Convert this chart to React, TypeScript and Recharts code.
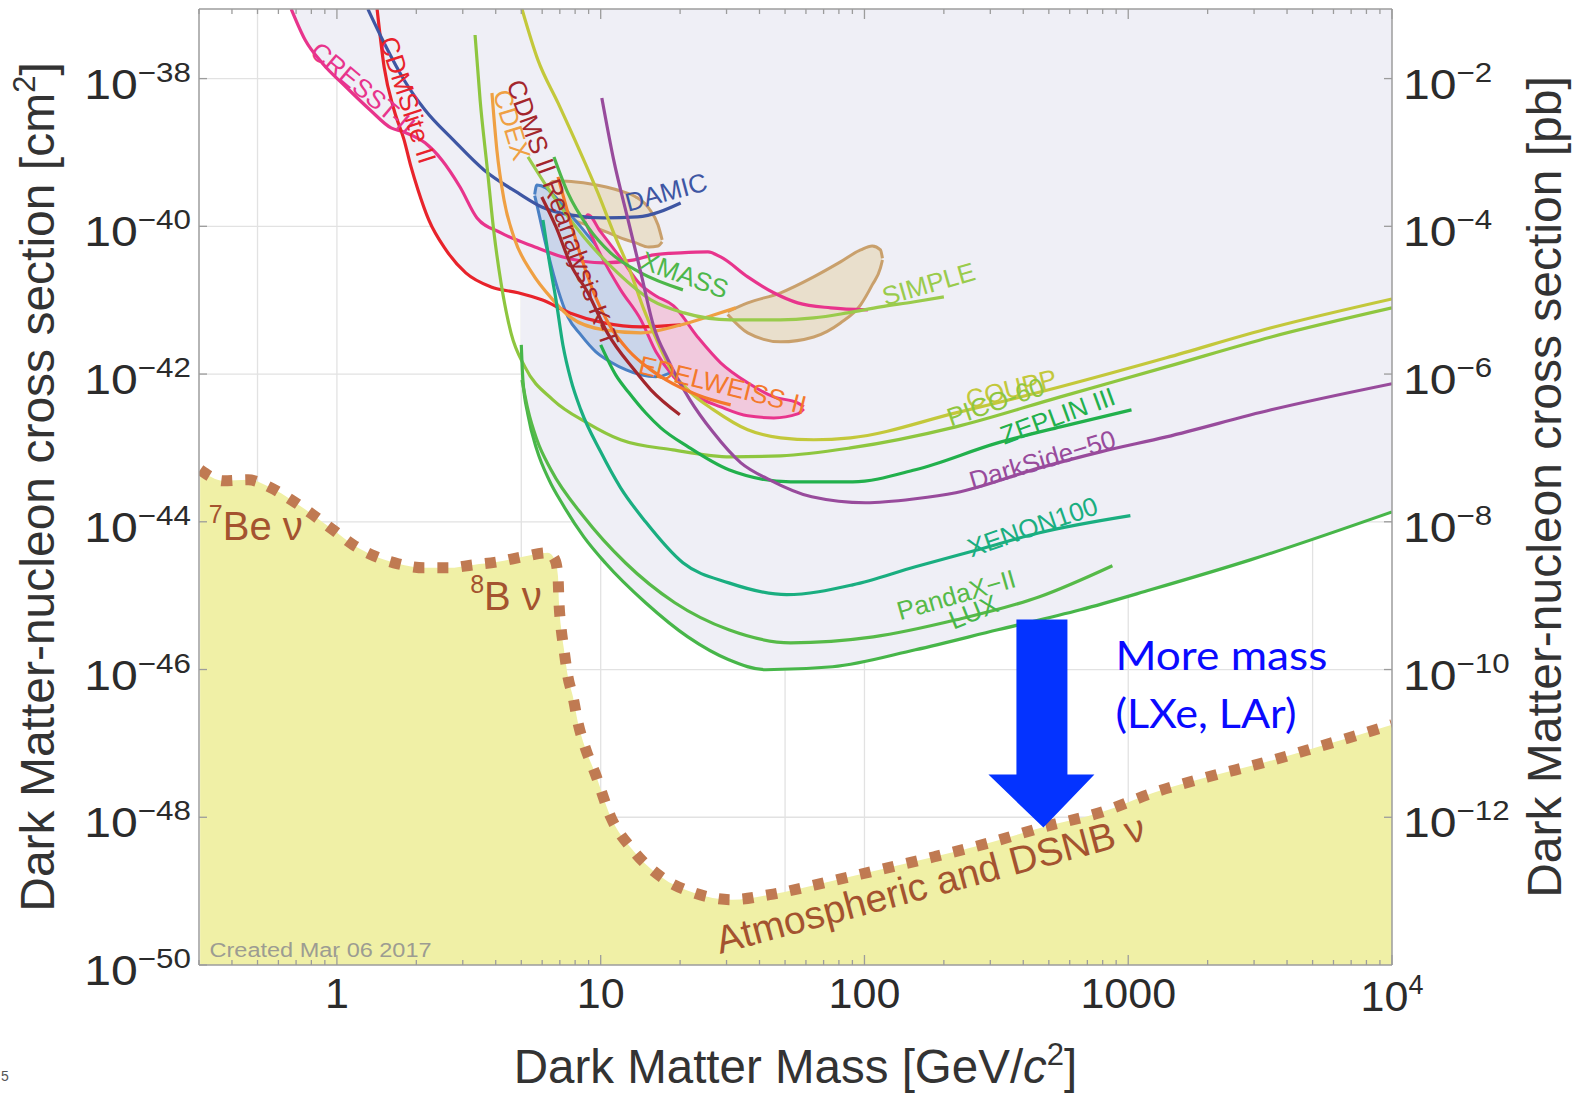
import React from 'react';
import {
  ComposedChart,
  Line,
  Area,
  XAxis,
  YAxis,
  CartesianGrid,
  ReferenceDot,
  ReferenceLine,
} from 'recharts';

// ---------- axes ----------
const X_MIN = 0.3;
const X_MAX = 10000;
const Y_MIN = 1e-50;
const Y_MAX = 8.75e-38;
const PB_PER_CM2 = 1e36;

const xTicks = [
  0.3, 0.4, 0.5, 0.6, 0.7, 0.8, 0.9,
  1, 2, 3, 4, 5, 6, 7, 8, 9,
  10, 20, 30, 40, 50, 60, 70, 80, 90,
  100, 200, 300, 400, 500, 600, 700, 800, 900,
  1000, 2000, 3000, 4000, 5000, 6000, 7000, 8000, 9000,
  10000,
];
const yTicksCm = [1e-50, 1e-48, 1e-46, 1e-44, 1e-42, 1e-40, 1e-38];
const yTicksPb = [1e-12, 1e-10, 1e-8, 1e-6, 1e-4, 1e-2];
const gridMasses = [0.5, 1, 5, 10, 50, 100, 500, 1000, 5000];
const gridSigmas = [1e-48, 1e-46, 1e-44, 1e-42, 1e-40, 1e-38];

// ---------- limit curves (mass GeV, cross section cm^2) ----------
const cresstII = [
  { m: 0.671, s: 8.75e-38 }, { m: 0.758, s: 3.33e-38 }, { m: 0.879, s: 1.63e-38 },
  { m: 1.083, s: 7.69e-39 }, { m: 1.336, s: 3.76e-39 }, { m: 1.604, s: 2.15e-39 },
  { m: 1.797, s: 1.89e-39 }, { m: 2.158, s: 1.35e-39 }, { m: 2.499, s: 7.93e-40 },
  { m: 2.929, s: 3.41e-40 }, { m: 3.397, s: 1.3e-40 }, { m: 4.19, s: 8.15e-41 },
  { m: 5.63, s: 5.26e-41 }, { m: 7.19, s: 3.85e-41 }, { m: 10.3, s: 3.2e-41 },
  { m: 13.4, s: 3.51e-41 }, { m: 15.9, s: 4.1e-41 }, { m: 20.1, s: 4.37e-41 },
  { m: 25.5, s: 4.5e-41 }, { m: 28.5, s: 3.85e-41 }, { m: 36.1, s: 2.07e-41 },
  { m: 45.3, s: 1.26e-41 }, { m: 55.8, s: 9.2e-42 }, { m: 74.5, s: 7.87e-42 },
  { m: 103, s: 7.4e-42 },
];
const cdmsLiteII = [
  { m: 1.42, s: 8.75e-38 }, { m: 1.51, s: 1.44e-38 }, { m: 1.647, s: 3.76e-39 },
  { m: 1.797, s: 1.48e-39 }, { m: 1.91, s: 6.37e-40 }, { m: 2.03, s: 3.11e-40 },
  { m: 2.23, s: 1.22e-40 }, { m: 2.59, s: 4.8e-41 }, { m: 3.08, s: 2.34e-41 },
  { m: 3.84, s: 1.51e-41 }, { m: 4.86, s: 1.26e-41 }, { m: 5.98, s: 1.01e-41 },
  { m: 7.64, s: 6.73e-42 }, { m: 10.3, s: 4.92e-42 }, { m: 14.2, s: 4.35e-42 },
  { m: 20.1, s: 4.62e-42 },
];
const damic = [
  { m: 1.31, s: 8.75e-38 }, { m: 1.51, s: 3.03e-38 }, { m: 1.797, s: 9.57e-39 },
  { m: 2.158, s: 3.76e-39 }, { m: 2.76, s: 1.48e-39 }, { m: 3.61, s: 5.79e-40 },
  { m: 4.86, s: 2.83e-40 }, { m: 5.98, s: 1.83e-40 }, { m: 7.64, s: 1.43e-40 },
  { m: 10.3, s: 1.3e-40 }, { m: 13.8, s: 1.34e-40 }, { m: 20.1, s: 2.07e-40 },
];
const cdex = [
  { m: 3.87, s: 6.38e-39 }, { m: 4.04, s: 1.08e-39 }, { m: 4.3, s: 2.28e-40 },
  { m: 4.73, s: 6.55e-41 }, { m: 5.49, s: 2.34e-41 }, { m: 6.59, s: 1.01e-41 },
  { m: 7.64, s: 5.94e-42 }, { m: 10.3, s: 3.96e-42 }, { m: 14.2, s: 3.61e-42 },
  { m: 20.1, s: 4.62e-42 }, { m: 26.8, s: 6.32e-42 }, { m: 32.5, s: 7.87e-42 },
];
const cdmsIIReanalysis = [
  { m: 5.98, s: 2.5e-40 }, { m: 6.77, s: 9.82e-41 }, { m: 7.71, s: 3.01e-41 },
  { m: 8.94, s: 1.26e-41 }, { m: 10.6, s: 3.61e-42 }, { m: 13.4, s: 1.14e-42 },
  { m: 15.5, s: 6.11e-43 }, { m: 19.95, s: 2.81e-43 },
];
const edelweissII = [
  { m: 6.89, s: 4.67e-40 }, { m: 8.2, s: 5.26e-41 }, { m: 9.42, s: 1.26e-41 },
  { m: 10.9, s: 4.35e-42 }, { m: 12.7, s: 2.12e-42 }, { m: 15.5, s: 1.14e-42 },
  { m: 17.7, s: 8.34e-43 }, { m: 23.3, s: 5.22e-43 }, { m: 31.1, s: 3.83e-43 },
];
const coupp = [
  { m: 5.03, s: 8.75e-38 }, { m: 5.78, s: 1.79e-38 }, { m: 6.89, s: 4.68e-39 },
  { m: 8.2, s: 1.19e-39 }, { m: 9.76, s: 2.83e-40 }, { m: 11.2, s: 8.15e-41 },
  { m: 13.0, s: 2.34e-41 }, { m: 14.6, s: 7.4e-42 }, { m: 16.5, s: 2.64e-42 },
  { m: 18.5, s: 1.14e-42 }, { m: 22.0, s: 5.57e-43 }, { m: 26.8, s: 3.28e-43 },
  { m: 36.1, s: 1.76e-43 }, { m: 48.1, s: 1.37e-43 }, { m: 64.2, s: 1.29e-43 },
  { m: 88.5, s: 1.37e-43 }, { m: 222, s: 2.98e-43 }, { m: 553, s: 6.73e-43 },
  { m: 1395, s: 1.66e-42 }, { m: 3483, s: 4.23e-42 }, { m: 10000, s: 1.04e-41 },
];
const pico60 = [
  { m: 3.34, s: 3.89e-38 }, { m: 3.49, s: 5.13e-39 }, { m: 3.71, s: 6.37e-40 },
  { m: 3.94, s: 8.15e-41 }, { m: 4.19, s: 1.71e-41 }, { m: 4.57, s: 3.61e-42 },
  { m: 5.16, s: 1.25e-42 }, { m: 6.59, s: 4.48e-43 }, { m: 8.87, s: 2.19e-43 },
  { m: 11.9, s: 1.29e-43 }, { m: 18.8, s: 9.42e-44 }, { m: 31.1, s: 7.58e-44 },
  { m: 48.1, s: 7.82e-44 }, { m: 88.5, s: 1.0e-43 }, { m: 222, s: 1.93e-43 },
  { m: 553, s: 4.91e-43 }, { m: 1395, s: 1.25e-42 }, { m: 3483, s: 3.18e-42 },
  { m: 10000, s: 7.87e-42 },
];
const simple = [
  { m: 5.3, s: 8.69e-40 }, { m: 6.48, s: 2.83e-40 }, { m: 8.63, s: 7.19e-41 },
  { m: 11.6, s: 2.34e-41 }, { m: 15.5, s: 1.01e-41 }, { m: 20.7, s: 6.73e-42 },
  { m: 31.1, s: 5.41e-42 }, { m: 48.1, s: 5.41e-42 }, { m: 64.2, s: 5.75e-42 },
  { m: 86.2, s: 6.73e-42 }, { m: 115, s: 8.11e-42 }, { m: 153, s: 9.46e-42 },
  { m: 200, s: 1.11e-41 },
];
const xmass = [
  { m: 6.65, s: 8.69e-40 }, { m: 7.51, s: 2.83e-40 }, { m: 8.94, s: 9.82e-41 },
  { m: 10.9, s: 4.37e-41 }, { m: 14.2, s: 2.34e-41 }, { m: 20.5, s: 1.38e-41 },
];
const zeplinIII = [
  { m: 10.0, s: 2.48e-42 }, { m: 11.4, s: 9.75e-43 }, { m: 12.8, s: 5.57e-43 },
  { m: 14.8, s: 2.99e-43 }, { m: 16.9, s: 1.87e-43 }, { m: 21.4, s: 1.04e-43 },
  { m: 30.6, s: 5.06e-44 }, { m: 52.5, s: 3.48e-44 }, { m: 90.2, s: 3.48e-44 },
  { m: 156, s: 5.06e-44 }, { m: 320, s: 1.17e-43 }, { m: 553, s: 1.93e-43 },
  { m: 1029, s: 3.28e-43 },
];
const darkSide50 = [
  { m: 10.1, s: 5.46e-39 }, { m: 11.2, s: 7.93e-40 }, { m: 12.7, s: 1.22e-40 },
  { m: 14.2, s: 2.34e-41 }, { m: 15.9, s: 4.35e-42 }, { m: 18.0, s: 1.56e-42 },
  { m: 21.8, s: 4.48e-43 }, { m: 26.6, s: 1.65e-43 }, { m: 34.0, s: 6.28e-44 },
  { m: 43.7, s: 3.7e-44 }, { m: 63.1, s: 2.18e-44 }, { m: 101, s: 1.81e-44 },
  { m: 156, s: 2.05e-44 }, { m: 222, s: 2.47e-44 }, { m: 461, s: 5.37e-44 },
  { m: 785, s: 8.85e-44 }, { m: 1395, s: 1.41e-43 }, { m: 3483, s: 3.28e-43 },
  { m: 10000, s: 7.4e-43 },
];
const xenon100 = [
  { m: 6.04, s: 1.22e-40 }, { m: 6.37, s: 3.52e-41 }, { m: 6.77, s: 1.01e-41 },
  { m: 7.19, s: 2.48e-42 }, { m: 7.71, s: 8.34e-43 }, { m: 8.41, s: 3.27e-43 },
  { m: 10.0, s: 8.85e-44 }, { m: 11.9, s: 2.88e-44 }, { m: 14.8, s: 1.0e-44 },
  { m: 20.5, s: 2.79e-45 }, { m: 30.6, s: 1.49e-45 }, { m: 50.7, s: 1.03e-45 },
  { m: 90.2, s: 1.4e-45 }, { m: 156, s: 2.46e-45 }, { m: 269, s: 4.18e-45 },
  { m: 461, s: 7.1e-45 }, { m: 1019, s: 1.21e-44 },
];
const pandaXII = [
  { m: 5.03, s: 8.34e-43 }, { m: 5.3, s: 3.27e-43 }, { m: 5.73, s: 1.29e-43 },
  { m: 6.48, s: 5.06e-44 }, { m: 8.63, s: 1.17e-44 }, { m: 12.4, s: 2.79e-45 },
  { m: 19.1, s: 8.02e-46 }, { m: 30.6, s: 3.45e-46 }, { m: 52.5, s: 2.3e-46 },
  { m: 108, s: 2.77e-46 }, { m: 223, s: 4.71e-46 }, { m: 461, s: 9.66e-46 },
  { m: 871, s: 2.54e-45 },
];
const lux = [
  { m: 5.0, s: 2.48e-42 }, { m: 5.07, s: 8.34e-43 }, { m: 5.3, s: 2.81e-43 },
  { m: 5.73, s: 9.42e-44 }, { m: 6.37, s: 3.7e-44 }, { m: 7.19, s: 1.7e-44 },
  { m: 8.63, s: 6.26e-45 }, { m: 10.4, s: 2.79e-45 }, { m: 14.8, s: 8.02e-46 },
  { m: 21.4, s: 2.77e-46 }, { m: 30.6, s: 1.36e-46 }, { m: 42.3, s: 9.93e-47 },
  { m: 75.7, s: 1.09e-46 }, { m: 156, s: 1.85e-46 }, { m: 320, s: 3.45e-46 },
  { m: 659, s: 6.43e-46 }, { m: 1215, s: 1.2e-45 }, { m: 2904, s: 3.05e-45 },
  { m: 10000, s: 1.36e-44 },
];

// envelope of the excluded parameter space (lower boundary)
const excludedRegion = [
  { m: 0.671, s: 8.75e-38 }, { m: 0.758, s: 3.33e-38 }, { m: 0.879, s: 1.63e-38 },
  { m: 1.083, s: 7.69e-39 }, { m: 1.336, s: 3.76e-39 }, { m: 1.604, s: 2.15e-39 },
  { m: 1.72, s: 1.89e-39 }, { m: 1.797, s: 1.48e-39 }, { m: 1.91, s: 6.37e-40 },
  { m: 2.03, s: 3.11e-40 }, { m: 2.23, s: 1.22e-40 }, { m: 2.59, s: 4.8e-41 },
  { m: 3.08, s: 2.34e-41 }, { m: 3.84, s: 1.51e-41 }, { m: 4.86, s: 1.26e-41 },
  { m: 4.98, s: 1.24e-41 }, { m: 5.0, s: 2.48e-42 }, { m: 5.07, s: 8.34e-43 },
  { m: 5.3, s: 2.81e-43 }, { m: 5.73, s: 9.42e-44 }, { m: 6.37, s: 3.7e-44 },
  { m: 7.19, s: 1.7e-44 }, { m: 8.63, s: 6.26e-45 }, { m: 10.4, s: 2.79e-45 },
  { m: 14.8, s: 8.02e-46 }, { m: 21.4, s: 2.77e-46 }, { m: 30.6, s: 1.36e-46 },
  { m: 42.3, s: 9.93e-47 }, { m: 75.7, s: 1.09e-46 }, { m: 156, s: 1.85e-46 },
  { m: 320, s: 3.45e-46 }, { m: 659, s: 6.43e-46 }, { m: 1215, s: 1.2e-45 },
  { m: 2904, s: 3.05e-45 }, { m: 10000, s: 1.36e-44 },
];

// neutrino floor
const neutrinoFloor = [
  { m: 0.303, s: 5.06e-44 }, { m: 0.371, s: 3.59e-44 }, { m: 0.461, s: 3.7e-44 },
  { m: 0.563, s: 2.88e-44 }, { m: 0.671, s: 1.98e-44 }, { m: 0.812, s: 1.24e-44 },
  { m: 0.967, s: 7.78e-45 }, { m: 1.152, s: 4.88e-45 }, { m: 1.383, s: 3.46e-45 },
  { m: 1.706, s: 2.7e-45 }, { m: 2.14, s: 2.38e-45 }, { m: 2.64, s: 2.38e-45 },
  { m: 3.28, s: 2.61e-45 }, { m: 4.08, s: 2.87e-45 }, { m: 5.07, s: 3.36e-45 },
  { m: 6.31, s: 3.8e-45 }, { m: 6.71, s: 3.05e-45 }, { m: 6.89, s: 1.8e-45 },
  { m: 6.95, s: 8.02e-46 }, { m: 7.07, s: 3.79e-46 }, { m: 7.26, s: 1.85e-46 },
  { m: 7.51, s: 7.98e-47 }, { m: 7.85, s: 4.28e-47 }, { m: 8.2, s: 1.91e-47 },
  { m: 8.79, s: 8.21e-48 }, { m: 9.51, s: 4.01e-48 }, { m: 10.9, s: 1.02e-48 },
  { m: 13.2, s: 3.64e-49 }, { m: 16.9, s: 1.57e-49 }, { m: 22.5, s: 9.52e-50 },
  { m: 31.4, s: 7.66e-50 }, { m: 43.7, s: 8.95e-50 }, { m: 70.6, s: 1.3e-49 },
  { m: 114, s: 1.95e-49 }, { m: 184, s: 2.92e-49 }, { m: 298, s: 4.52e-49 },
  { m: 482, s: 7.44e-49 }, { m: 778, s: 1.15e-48 }, { m: 1247, s: 2.15e-48 },
  { m: 2014, s: 3.53e-48 }, { m: 3251, s: 5.47e-48 }, { m: 5260, s: 8.99e-48 },
  { m: 10000, s: 1.79e-47 },
];

// signal regions [lower, upper]
const cdmsSiRegion = [
  { m: 5.62, r: [2.6e-40, 2.7e-40] }, { m: 5.73, r: [1.95e-40, 3.63e-40] },
  { m: 6.2, r: [5.6e-41, 3.31e-40] }, { m: 6.89, r: [1.38e-41, 2.28e-40] },
  { m: 7.51, r: [5.94e-42, 1.57e-40] }, { m: 8.41, r: [3.39e-42, 9.82e-41] },
  { m: 9.59, r: [2.0e-42, 5.6e-41] }, { m: 10.9, r: [1.46e-42, 3.51e-41] },
  { m: 12.5, r: [1.14e-42, 2.2e-41] }, { m: 14.2, r: [9.75e-43, 1.26e-41] },
  { m: 16.2, r: [9.16e-43, 7.4e-42] }, { m: 18.0, r: [1.01e-42, 4.36e-42] },
  { m: 19.6, r: [1.33e-42, 2.64e-42] }, { m: 20.7, r: [1.66e-42, 1.82e-42] },
];
const damaRegion = [
  { m: 6.25, r: [2.9e-40, 3.3e-40] }, { m: 6.6, r: [1.95e-40, 4.05e-40] },
  { m: 7.07, r: [1.57e-40, 4.11e-40] }, { m: 8.05, r: [1.18e-40, 3.99e-40] },
  { m: 9.18, r: [1.01e-40, 3.75e-40] }, { m: 10.5, r: [8.4e-41, 3.41e-40] },
  { m: 11.9, r: [6.97e-41, 3.01e-40] }, { m: 13.6, r: [5.96e-41, 2.5e-40] },
  { m: 15.2, r: [5.26e-41, 1.77e-40] }, { m: 16.5, r: [5.43e-41, 1.04e-40] },
  { m: 17.1, r: [6.15e-41, 6.55e-41] },
];
const cogentRegion = [
  { m: 30.3, r: [6.4e-42, 7.0e-42] }, { m: 36.1, r: [3.61e-42, 9.2e-42] },
  { m: 48.1, r: [2.73e-42, 1.26e-41] }, { m: 64.2, r: [3.18e-42, 2.07e-41] },
  { m: 81.1, r: [4.92e-42, 3.3e-41] }, { m: 96.7, r: [8.65e-42, 4.8e-41] },
  { m: 107, r: [1.61e-41, 5.43e-41] }, { m: 115, r: [2.73e-41, 4.8e-41] },
  { m: 117, r: [3.5e-41, 3.7e-41] },
];
const cresstRegion = [
  { m: 8.71, r: [1.15e-40, 1.25e-40] }, { m: 8.94, r: [9.51e-41, 1.43e-40] },
  { m: 10.0, r: [4.1e-41, 8.4e-41] }, { m: 11.9, r: [1.38e-41, 3.74e-41] },
  { m: 14.2, r: [5.41e-42, 1.61e-41] }, { m: 16.2, r: [2.0e-42, 1.14e-41] },
  { m: 18.9, r: [9.16e-43, 8.38e-42] }, { m: 23.3, r: [4.91e-43, 3.18e-42] },
  { m: 28.5, r: [3.6e-43, 1.42e-42] }, { m: 36.1, r: [2.72e-43, 7.61e-43] },
  { m: 45.3, r: [2.55e-43, 4.91e-43] }, { m: 55.8, r: [2.89e-43, 4.07e-43] },
  { m: 58.9, r: [3.38e-43, 3.6e-43] },
];

// curve name anchors (mass, cross section)
const curveLabels = [
  { text: 'CRESST-II', m: 1.255, s: 7.43e-39, angle: 40, color: '#e8348c' },
  { text: 'CDMSlite II', m: 1.86, s: 5.12e-39, angle: 72, color: '#e8232b' },
  { text: 'CDEX', m: 4.61, s: 2.35e-39, angle: 73, color: '#efa043' },
  { text: 'CDMS II Reanalysis K-T', m: 7.19, s: 1.51e-40, angle: 70, color: '#a3262c' },
  { text: 'DAMIC', m: 17.7, s: 2.9e-40, angle: -15, color: '#3e56a3' },
  { text: 'XMASS', m: 20.8, s: 2.2e-41, angle: 20, color: '#4db74a' },
  { text: 'SIMPLE', m: 175, s: 1.66e-41, angle: -16, color: '#9acb4c' },
  { text: 'EDELWEISS II', m: 29.0, s: 7.13e-43, angle: 14, color: '#f4792b' },
  { text: 'COUPP', m: 360, s: 6.3e-43, angle: -14, color: '#c3c83b' },
  { text: 'PICO-60', m: 314, s: 4.2e-43, angle: -19, color: '#8ec63f' },
  { text: 'ZEPLIN III', m: 540, s: 2.72e-43, angle: -20, color: '#22b04c' },
  { text: 'DarkSide\u221250', m: 473, s: 6.9e-44, angle: -16.5, color: '#984b9c' },
  { text: 'XENON100', m: 434, s: 8.55e-45, angle: -19, color: '#1aae80' },
  { text: 'PandaX\u2212II', m: 223, s: 1.03e-45, angle: -16, color: '#56ba48' },
  { text: 'LUX', m: 259, s: 6.04e-46, angle: -22, color: '#47b649' },
];

// annotation anchors
const be7Anchor = { m: 0.327, s: 5.7e-45 };
const b8Anchor = { m: 3.2, s: 6.38e-46 };
const atmAnchor = { m: 183, s: 8.41e-50 };
const createdAnchor = { m: 0.329, s: 1.3e-50 };
const arrowTip = { m: 477, s: 7.24e-49 };
const moreMassAnchor = { m: 894, s: 9.72e-47 };

// ---------- styling ----------
const W = 1581;
const H = 1095;
const PLOT_TOP = 9;
const PLOT_LEFT = 199;
const PLOT_RIGHT = 1392;
const PLOT_BOTTOM = 965;
const FONT = '"Liberation Sans", Arial, Helvetica, sans-serif';
const AXIS_COLOR = '#9c9c9c';
const TICK_TEXT = '#2b2b2b';
const NU_COLOR = '#a4532f';
const STRETCH = 1.12;

const minusStr = (n: number) => (n < 0 ? '\u2212' + Math.abs(n) : String(n));
const expOf = (v: number) => Math.round(Math.log10(v));
const isPow10 = (v: number) => Math.abs(v - Math.pow(10, expOf(v))) < 1e-6 * v;
// approximate natural width of "10^e" label (Helvetica metrics) for horizontal stretch
const powLabelWidth = (e: number) =>
  STRETCH * (43 * 1.112 + 28 * ((e < 0 ? 0.584 : 0) + 0.556 * String(Math.abs(e)).length));

function XTick(props: any) {
  const { x, payload } = props;
  const v = payload.value;
  const major = isPow10(v);
  const len = major ? 10 : 5;
  let label: any = null;
  if (major) {
    const e = expOf(v);
    label =
      e >= 4 ? (
        <text x={x} y={PLOT_BOTTOM + 46} textAnchor="middle" fontFamily={FONT} fontSize={43} fill={TICK_TEXT}>
          <tspan>10</tspan>
          <tspan dy={-17} fontSize={27}>{String(e)}</tspan>
        </text>
      ) : (
        <text x={x} y={PLOT_BOTTOM + 43} textAnchor="middle" fontFamily={FONT} fontSize={43} fill={TICK_TEXT}>
          {String(v)}
        </text>
      );
  }
  return (
    <g>
      <line x1={x} x2={x} y1={PLOT_BOTTOM} y2={PLOT_BOTTOM - len} stroke={AXIS_COLOR} strokeWidth={1.3} />
      <line x1={x} x2={x} y1={PLOT_TOP} y2={PLOT_TOP + len} stroke={AXIS_COLOR} strokeWidth={1.3} />
      {label}
    </g>
  );
}

function LeftTick(props: any) {
  const { y, payload } = props;
  const e = expOf(payload.value);
  return (
    <g>
      <line x1={PLOT_LEFT} x2={PLOT_LEFT + 8} y1={y} y2={y} stroke={AXIS_COLOR} strokeWidth={1.3} />
      <text
        x={PLOT_LEFT - 8}
        y={y + 20}
        textAnchor="end"
        fontFamily={FONT}
        fontSize={43}
        fill={TICK_TEXT}
        textLength={powLabelWidth(e)}
        lengthAdjust="spacingAndGlyphs"
      >
        <tspan>10</tspan>
        <tspan dy={-17} fontSize={28}>{minusStr(e)}</tspan>
      </text>
    </g>
  );
}

function RightTick(props: any) {
  const { y, payload } = props;
  const e = expOf(payload.value);
  return (
    <g>
      <line x1={PLOT_RIGHT} x2={PLOT_RIGHT - 8} y1={y} y2={y} stroke={AXIS_COLOR} strokeWidth={1.3} />
      <text
        x={PLOT_RIGHT + 11}
        y={y + 20}
        textAnchor="start"
        fontFamily={FONT}
        fontSize={43}
        fill={TICK_TEXT}
        textLength={powLabelWidth(e)}
        lengthAdjust="spacingAndGlyphs"
      >
        <tspan>10</tspan>
        <tspan dy={-17} fontSize={28}>{minusStr(e)}</tspan>
      </text>
    </g>
  );
}

const renderLeftTitle = (props: any) => {
  const vb = props.viewBox || { x: 0, y: PLOT_TOP, width: PLOT_LEFT, height: PLOT_BOTTOM - PLOT_TOP };
  const cx = vb.x + 54;
  const cy = vb.y + vb.height / 2;
  return (
    <text x={cx} y={cy} transform={`rotate(-90 ${cx} ${cy})`} textAnchor="middle" fontFamily={FONT} fontSize={48} fill="#333">
      <tspan>Dark Matter-nucleon cross section [cm</tspan>
      <tspan dy={-19} fontSize={31}>2</tspan>
      <tspan dy={19}>]</tspan>
    </text>
  );
};

const renderRightTitle = (props: any) => {
  const vb = props.viewBox || { x: PLOT_RIGHT, y: PLOT_TOP, width: W - PLOT_RIGHT, height: PLOT_BOTTOM - PLOT_TOP };
  const cx = vb.x + 169;
  const cy = vb.y + vb.height / 2;
  return (
    <text x={cx} y={cy} transform={`rotate(-90 ${cx} ${cy})`} textAnchor="middle" fontFamily={FONT} fontSize={48} fill="#333">
      Dark Matter-nucleon cross section [pb]
    </text>
  );
};

const renderXTitle = (props: any) => {
  const vb = props.viewBox || { x: PLOT_LEFT, y: PLOT_BOTTOM, width: PLOT_RIGHT - PLOT_LEFT, height: H - PLOT_BOTTOM };
  const cx = vb.x + vb.width / 2;
  const cy = vb.y + 118;
  return (
    <text x={cx} y={cy} textAnchor="middle" fontFamily={FONT} fontSize={47.5} fill="#333">
      <tspan>Dark Matter Mass [GeV/</tspan>
      <tspan fontStyle="italic">c</tspan>
      <tspan dy={-18} fontSize={31}>2</tspan>
      <tspan dy={18}>]</tspan>
    </text>
  );
};

const curveLabelShape = (l: any) => (props: any) => {
  const { cx, cy } = props;
  return (
    <text
      x={cx}
      y={cy}
      textAnchor="middle"
      dominantBaseline="central"
      transform={`rotate(${l.angle} ${cx} ${cy})`}
      fontFamily={FONT}
      fontSize={26}
      fill={l.color}
    >
      {l.text}
    </text>
  );
};

const Be7Shape = (props: any) => {
  const { cx, cy } = props;
  return (
    <text x={cx} y={cy} fontFamily={FONT} fontSize={40} fill={NU_COLOR}>
      <tspan dy={-17} fontSize={25}>7</tspan>
      <tspan dy={17}>Be {'\u03bd'}</tspan>
    </text>
  );
};
const B8Shape = (props: any) => {
  const { cx, cy } = props;
  return (
    <text x={cx} y={cy} fontFamily={FONT} fontSize={40} fill={NU_COLOR}>
      <tspan dy={-17} fontSize={25}>8</tspan>
      <tspan dy={17}>B {'\u03bd'}</tspan>
    </text>
  );
};
const AtmShape = (props: any) => {
  const { cx, cy } = props;
  return (
    <text x={cx} y={cy} textAnchor="middle" transform={`rotate(-15 ${cx} ${cy})`} fontFamily={FONT} fontSize={39} fill={NU_COLOR}>
      Atmospheric and DSNB {'\u03bd'}
    </text>
  );
};
const CreatedShape = (props: any) => {
  const { cx, cy } = props;
  return (
    <text x={cx} y={cy} fontFamily={FONT} fontSize={20} fill="#9c9c92" textLength={222} lengthAdjust="spacingAndGlyphs">
      Created Mar 06 2017
    </text>
  );
};
const ArrowShape = (props: any) => {
  const { cx, cy } = props;
  const pts = [
    [cx - 27, cy - 208], [cx + 24, cy - 208], [cx + 24, cy - 53], [cx + 51, cy - 53],
    [cx, cy], [cx - 55, cy - 53], [cx - 27, cy - 53],
  ];
  return <polygon points={pts.map((p) => p.join(',')).join(' ')} fill="#0433ff" />;
};
const MoreMassShape = (props: any) => {
  const { cx, cy } = props;
  return (
    <g fontFamily='Lato, "Open Sans", sans-serif' fontSize={40} fill="#0a0aff">
      <text x={cx} y={cy} textLength={212} lengthAdjust="spacingAndGlyphs">More mass</text>
      <text x={cx} y={cy + 58} textLength={181} lengthAdjust="spacingAndGlyphs">(LXe, LAr)</text>
    </g>
  );
};

const lineSeries = [
  { key: 'cresst', data: cresstII, color: '#e8348c' },
  { key: 'cdmslite', data: cdmsLiteII, color: '#e8232b' },
  { key: 'damic', data: damic, color: '#3e56a3' },
  { key: 'cdex', data: cdex, color: '#efa043' },
  { key: 'pico', data: pico60, color: '#8ec63f' },
  { key: 'coupp', data: coupp, color: '#c3c83b' },
  { key: 'simple', data: simple, color: '#9acb4c' },
  { key: 'xmass', data: xmass, color: '#4db74a' },
  { key: 'zeplin', data: zeplinIII, color: '#22b04c' },
  { key: 'xenon', data: xenon100, color: '#1aae80' },
  { key: 'lux', data: lux, color: '#47b649' },
  { key: 'pandax', data: pandaXII, color: '#56ba48' },
  { key: 'darkside', data: darkSide50, color: '#984b9c' },
  { key: 'cdmsre', data: cdmsIIReanalysis, color: '#a3262c' },
  { key: 'edelweiss', data: edelweissII, color: '#f4792b' },
];

export default function App() {
  return (
    <div style={{ position: 'absolute', left: 0, top: 0, width: W, height: H, background: '#fff', overflow: 'hidden' }}>
      <ComposedChart width={W} height={H} margin={{ top: PLOT_TOP, right: 0, bottom: 0, left: 0 }}>
        <CartesianGrid
          verticalValues={gridMasses}
          horizontalValues={gridSigmas}
          stroke="#e2e2e2"
          strokeWidth={1.3}
        />
        <XAxis
          dataKey="m"
          type="number"
          scale="log"
          domain={[X_MIN, X_MAX]}
          allowDataOverflow
          ticks={xTicks}
          interval={0}
          height={H - PLOT_BOTTOM}
          tickSize={0}
          tickMargin={0}
          tickLine={false}
          tick={(p: any) => <XTick {...p} />}
          axisLine={{ stroke: AXIS_COLOR, strokeWidth: 1.5 }}
          label={{ content: renderXTitle }}
        />
        <YAxis
          type="number"
          scale="log"
          domain={[Y_MIN, Y_MAX]}
          allowDataOverflow
          ticks={yTicksCm}
          interval={0}
          width={PLOT_LEFT}
          tickSize={0}
          tickMargin={0}
          tickLine={false}
          tick={(p: any) => <LeftTick {...p} />}
          axisLine={{ stroke: AXIS_COLOR, strokeWidth: 1.5 }}
          label={{ content: renderLeftTitle }}
        />
        <YAxis
          yAxisId="pb"
          orientation="right"
          type="number"
          scale="log"
          domain={[Y_MIN * PB_PER_CM2, Y_MAX * PB_PER_CM2]}
          allowDataOverflow
          ticks={yTicksPb}
          interval={0}
          width={W - PLOT_RIGHT}
          tickSize={0}
          tickMargin={0}
          tickLine={false}
          tick={(p: any) => <RightTick {...p} />}
          axisLine={{ stroke: AXIS_COLOR, strokeWidth: 1.5 }}
          label={{ content: renderRightTitle }}
        />

        <Area data={excludedRegion} dataKey="s" type="monotone" baseValue={Y_MAX} fill="#efeff6" fillOpacity={1} stroke="none" isAnimationActive={false} />
        <Area data={neutrinoFloor} dataKey="s" type="monotone" baseValue={Y_MIN} fill="#f0f0a6" fillOpacity={1} stroke="#c07a52" strokeWidth={11} strokeDasharray="11 13" isAnimationActive={false} />

        <Area data={damaRegion} dataKey="r" type="monotone" fill="#e9dfcc" fillOpacity={1} stroke="#c9a06c" strokeWidth={3} isAnimationActive={false} />
        <Area data={cogentRegion} dataKey="r" type="monotone" fill="#e9dfcc" fillOpacity={1} stroke="#c9a06c" strokeWidth={3} isAnimationActive={false} />
        <Area data={cdmsSiRegion} dataKey="r" type="monotone" fill="#cad5ea" fillOpacity={1} stroke="#4a80c4" strokeWidth={3} isAnimationActive={false} />
        <Area data={cresstRegion} dataKey="r" type="monotone" fill="#f1c9dd" fillOpacity={1} stroke="#e8348c" strokeWidth={3} isAnimationActive={false} />

        {lineSeries.map((l) => (
          <Line
            key={l.key}
            data={l.data}
            dataKey="s"
            type="monotone"
            stroke={l.color}
            strokeWidth={3.2}
            dot={false}
            activeDot={false}
            isAnimationActive={false}
          />
        ))}

        <ReferenceLine y={Y_MAX} stroke={AXIS_COLOR} strokeWidth={1.5} />

        {curveLabels.map((l) => (
          <ReferenceDot key={l.text} x={l.m} y={l.s} r={0} ifOverflow="visible" shape={curveLabelShape(l)} />
        ))}
        <ReferenceDot x={be7Anchor.m} y={be7Anchor.s} r={0} ifOverflow="visible" shape={Be7Shape} />
        <ReferenceDot x={b8Anchor.m} y={b8Anchor.s} r={0} ifOverflow="visible" shape={B8Shape} />
        <ReferenceDot x={atmAnchor.m} y={atmAnchor.s} r={0} ifOverflow="visible" shape={AtmShape} />
        <ReferenceDot x={createdAnchor.m} y={createdAnchor.s} r={0} ifOverflow="visible" shape={CreatedShape} />
        <ReferenceDot x={arrowTip.m} y={arrowTip.s} r={0} ifOverflow="visible" shape={ArrowShape} />
        <ReferenceDot x={moreMassAnchor.m} y={moreMassAnchor.s} r={0} ifOverflow="visible" shape={MoreMassShape} />
      </ComposedChart>
      <div style={{ position: 'absolute', left: 1, top: 1068, fontFamily: FONT, fontSize: 14, color: '#555' }}>5</div>
    </div>
  );
}
